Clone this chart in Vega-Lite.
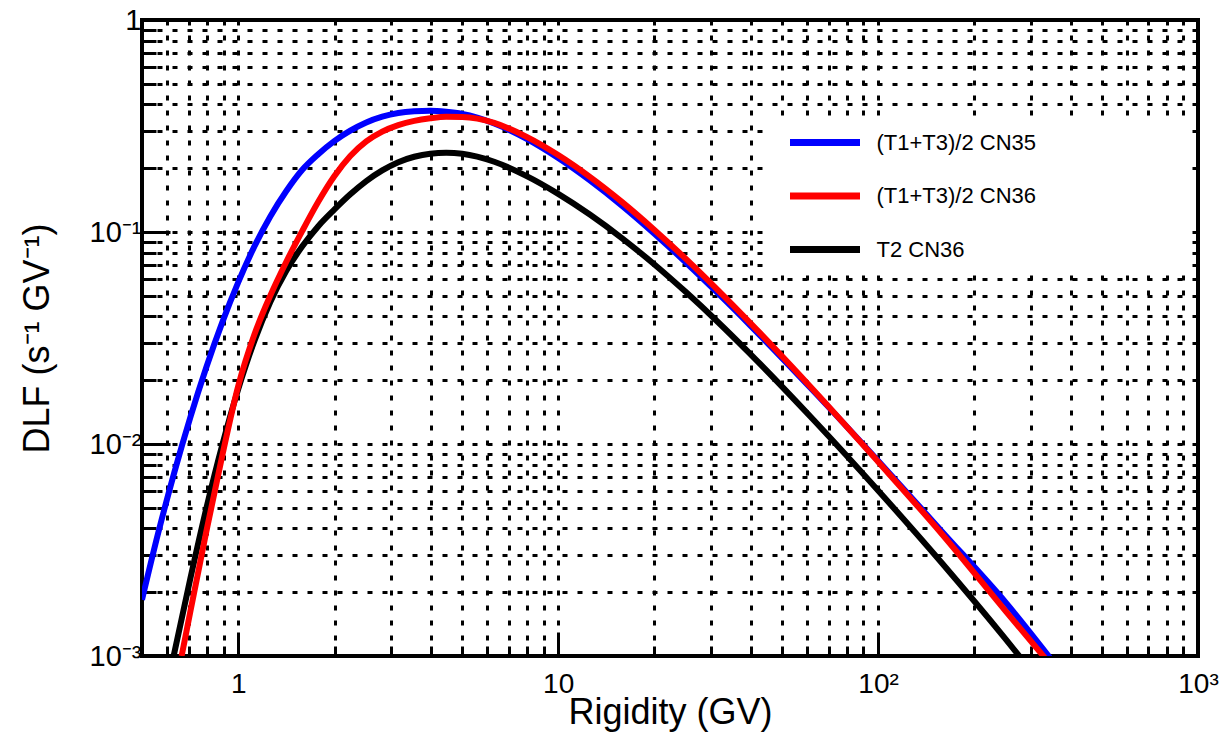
{
  "$schema": "https://vega.github.io/schema/vega-lite/v6.json",
  "width": 1056,
  "height": 636,
  "autosize": {"type": "none"},
  "padding": {"left": 142, "top": 20, "right": 26, "bottom": 78},
  "background": "white",
  "config": {"view": {"stroke": "black", "strokeWidth": 4}, "font": "Liberation Sans"},
  "data": {"values": [
    {"s": "(T1+T3)/2 CN35", "R": 0.5, "DLF": 0.00184},
    {"s": "(T1+T3)/2 CN35", "R": 0.562, "DLF": 0.00381},
    {"s": "(T1+T3)/2 CN35", "R": 0.631, "DLF": 0.00735},
    {"s": "(T1+T3)/2 CN35", "R": 0.708, "DLF": 0.01337},
    {"s": "(T1+T3)/2 CN35", "R": 0.794, "DLF": 0.02296},
    {"s": "(T1+T3)/2 CN35", "R": 0.891, "DLF": 0.03745},
    {"s": "(T1+T3)/2 CN35", "R": 1.0, "DLF": 0.058},
    {"s": "(T1+T3)/2 CN35", "R": 1.122, "DLF": 0.0853},
    {"s": "(T1+T3)/2 CN35", "R": 1.259, "DLF": 0.1184},
    {"s": "(T1+T3)/2 CN35", "R": 1.413, "DLF": 0.1561},
    {"s": "(T1+T3)/2 CN35", "R": 1.585, "DLF": 0.1966},
    {"s": "(T1+T3)/2 CN35", "R": 1.778, "DLF": 0.2328},
    {"s": "(T1+T3)/2 CN35", "R": 1.995, "DLF": 0.2684},
    {"s": "(T1+T3)/2 CN35", "R": 2.239, "DLF": 0.3006},
    {"s": "(T1+T3)/2 CN35", "R": 2.512, "DLF": 0.3286},
    {"s": "(T1+T3)/2 CN35", "R": 2.818, "DLF": 0.3499},
    {"s": "(T1+T3)/2 CN35", "R": 3.162, "DLF": 0.3642},
    {"s": "(T1+T3)/2 CN35", "R": 3.548, "DLF": 0.3711},
    {"s": "(T1+T3)/2 CN35", "R": 3.981, "DLF": 0.3733},
    {"s": "(T1+T3)/2 CN35", "R": 4.467, "DLF": 0.369},
    {"s": "(T1+T3)/2 CN35", "R": 5.012, "DLF": 0.3606},
    {"s": "(T1+T3)/2 CN35", "R": 6.31, "DLF": 0.3251},
    {"s": "(T1+T3)/2 CN35", "R": 7.943, "DLF": 0.2758},
    {"s": "(T1+T3)/2 CN35", "R": 10, "DLF": 0.2234},
    {"s": "(T1+T3)/2 CN35", "R": 12.59, "DLF": 0.1748},
    {"s": "(T1+T3)/2 CN35", "R": 15.85, "DLF": 0.1329},
    {"s": "(T1+T3)/2 CN35", "R": 19.95, "DLF": 0.0985},
    {"s": "(T1+T3)/2 CN35", "R": 25.12, "DLF": 0.0716},
    {"s": "(T1+T3)/2 CN35", "R": 31.62, "DLF": 0.0513},
    {"s": "(T1+T3)/2 CN35", "R": 39.81, "DLF": 0.0363},
    {"s": "(T1+T3)/2 CN35", "R": 63.1, "DLF": 0.01764},
    {"s": "(T1+T3)/2 CN35", "R": 100, "DLF": 0.00834},
    {"s": "(T1+T3)/2 CN35", "R": 158.5, "DLF": 0.00386},
    {"s": "(T1+T3)/2 CN35", "R": 251.2, "DLF": 0.00178},
    {"s": "(T1+T3)/2 CN35", "R": 398, "DLF": 0.00074},
    {"s": "(T1+T3)/2 CN36", "R": 0.665, "DLF": 0.001},
    {"s": "(T1+T3)/2 CN36", "R": 0.708, "DLF": 0.00162},
    {"s": "(T1+T3)/2 CN36", "R": 0.794, "DLF": 0.00385},
    {"s": "(T1+T3)/2 CN36", "R": 0.891, "DLF": 0.00881},
    {"s": "(T1+T3)/2 CN36", "R": 1.0, "DLF": 0.01884},
    {"s": "(T1+T3)/2 CN36", "R": 1.122, "DLF": 0.03273},
    {"s": "(T1+T3)/2 CN36", "R": 1.259, "DLF": 0.0501},
    {"s": "(T1+T3)/2 CN36", "R": 1.413, "DLF": 0.0724},
    {"s": "(T1+T3)/2 CN36", "R": 1.585, "DLF": 0.1012},
    {"s": "(T1+T3)/2 CN36", "R": 1.778, "DLF": 0.1388},
    {"s": "(T1+T3)/2 CN36", "R": 1.995, "DLF": 0.1831},
    {"s": "(T1+T3)/2 CN36", "R": 2.239, "DLF": 0.2283},
    {"s": "(T1+T3)/2 CN36", "R": 2.512, "DLF": 0.2677},
    {"s": "(T1+T3)/2 CN36", "R": 2.818, "DLF": 0.2976},
    {"s": "(T1+T3)/2 CN36", "R": 3.162, "DLF": 0.3195},
    {"s": "(T1+T3)/2 CN36", "R": 3.548, "DLF": 0.3345},
    {"s": "(T1+T3)/2 CN36", "R": 3.981, "DLF": 0.3439},
    {"s": "(T1+T3)/2 CN36", "R": 4.467, "DLF": 0.3494},
    {"s": "(T1+T3)/2 CN36", "R": 5.012, "DLF": 0.3487},
    {"s": "(T1+T3)/2 CN36", "R": 6.31, "DLF": 0.3273},
    {"s": "(T1+T3)/2 CN36", "R": 7.943, "DLF": 0.2818},
    {"s": "(T1+T3)/2 CN36", "R": 10, "DLF": 0.2307},
    {"s": "(T1+T3)/2 CN36", "R": 12.59, "DLF": 0.1816},
    {"s": "(T1+T3)/2 CN36", "R": 15.85, "DLF": 0.1384},
    {"s": "(T1+T3)/2 CN36", "R": 19.95, "DLF": 0.1026},
    {"s": "(T1+T3)/2 CN36", "R": 25.12, "DLF": 0.0745},
    {"s": "(T1+T3)/2 CN36", "R": 31.62, "DLF": 0.0531},
    {"s": "(T1+T3)/2 CN36", "R": 39.81, "DLF": 0.0373},
    {"s": "(T1+T3)/2 CN36", "R": 63.1, "DLF": 0.01784},
    {"s": "(T1+T3)/2 CN36", "R": 100, "DLF": 0.00825},
    {"s": "(T1+T3)/2 CN36", "R": 158.5, "DLF": 0.003753},
    {"s": "(T1+T3)/2 CN36", "R": 251.2, "DLF": 0.00162},
    {"s": "(T1+T3)/2 CN36", "R": 398, "DLF": 0.000708},
    {"s": "T2 CN36", "R": 0.628, "DLF": 0.001},
    {"s": "T2 CN36", "R": 0.708, "DLF": 0.002317},
    {"s": "T2 CN36", "R": 0.794, "DLF": 0.004955},
    {"s": "T2 CN36", "R": 0.891, "DLF": 0.009886},
    {"s": "T2 CN36", "R": 1.0, "DLF": 0.0182},
    {"s": "T2 CN36", "R": 1.122, "DLF": 0.03055},
    {"s": "T2 CN36", "R": 1.259, "DLF": 0.04677},
    {"s": "T2 CN36", "R": 1.413, "DLF": 0.06567},
    {"s": "T2 CN36", "R": 1.585, "DLF": 0.0856},
    {"s": "T2 CN36", "R": 1.778, "DLF": 0.1065},
    {"s": "T2 CN36", "R": 1.995, "DLF": 0.1274},
    {"s": "T2 CN36", "R": 2.239, "DLF": 0.1505},
    {"s": "T2 CN36", "R": 2.512, "DLF": 0.1738},
    {"s": "T2 CN36", "R": 2.818, "DLF": 0.1952},
    {"s": "T2 CN36", "R": 3.162, "DLF": 0.2135},
    {"s": "T2 CN36", "R": 3.548, "DLF": 0.2264},
    {"s": "T2 CN36", "R": 3.981, "DLF": 0.2341},
    {"s": "T2 CN36", "R": 4.467, "DLF": 0.2365},
    {"s": "T2 CN36", "R": 5.012, "DLF": 0.2339},
    {"s": "T2 CN36", "R": 6.31, "DLF": 0.2145},
    {"s": "T2 CN36", "R": 7.943, "DLF": 0.1841},
    {"s": "T2 CN36", "R": 10, "DLF": 0.1514},
    {"s": "T2 CN36", "R": 12.59, "DLF": 0.1206},
    {"s": "T2 CN36", "R": 15.85, "DLF": 0.0934},
    {"s": "T2 CN36", "R": 19.95, "DLF": 0.07047},
    {"s": "T2 CN36", "R": 25.12, "DLF": 0.05193},
    {"s": "T2 CN36", "R": 31.62, "DLF": 0.03753},
    {"s": "T2 CN36", "R": 39.81, "DLF": 0.02663},
    {"s": "T2 CN36", "R": 63.1, "DLF": 0.0129},
    {"s": "T2 CN36", "R": 100, "DLF": 0.006034},
    {"s": "T2 CN36", "R": 158.5, "DLF": 0.002738},
    {"s": "T2 CN36", "R": 251.2, "DLF": 0.001195},
    {"s": "T2 CN36", "R": 316.2, "DLF": 0.000776}
  ]},
  "encoding": {
    "x": {
      "field": "R", "type": "quantitative",
      "scale": {"type": "log", "domain": [0.5, 1000], "nice": false},
      "title": "Rigidity (GV)",
      "axis": {
        "values": [0.6, 0.7, 0.8, 0.9, 1, 2, 3, 4, 5, 6, 7, 8, 9, 10, 20, 30, 40, 50, 60, 70, 80, 90, 100, 200, 300, 400, 500, 600, 700, 800, 900, 1000],
        "grid": true, "gridColor": "black", "gridDash": [5, 10], "gridWidth": 3, "gridOpacity": 1,
        "domain": false,
        "ticks": true, "tickColor": "black", "tickWidth": 3,
        "tickSize": {"condition": {"test": "datum.value == 1 || datum.value == 10 || datum.value == 100 || datum.value == 1000", "value": -24}, "value": -10},
        "labelExpr": "datum.value == 1 ? '1' : datum.value == 10 ? '10' : datum.value == 100 ? '10\u00b2' : datum.value == 1000 ? '10\u00b3' : ''",
        "labelFontSize": 28, "labelColor": "black", "labelFont": "Liberation Sans",
        "labelPadding": 38, "labelFlush": false, "labelOverlap": false, "labelBound": false,
        "titleFontSize": 36, "titleFontWeight": "normal", "titleColor": "black", "titleFont": "Liberation Sans",
        "titlePadding": -17
      }
    },
    "y": {
      "field": "DLF", "type": "quantitative",
      "scale": {"type": "log", "domain": [0.001, 1], "nice": false},
      "title": "DLF (s\u207b\u00b9 GV\u207b\u00b9)",
      "axis": {
        "values": [0.001, 0.002, 0.003, 0.004, 0.005, 0.006, 0.007, 0.008, 0.009, 0.01, 0.02, 0.03, 0.04, 0.05, 0.06, 0.07, 0.08, 0.09, 0.1, 0.2, 0.3, 0.4, 0.5, 0.6, 0.7, 0.8, 0.9, 1],
        "grid": true, "gridColor": "black", "gridDash": [5, 10], "gridWidth": 3, "gridOpacity": 1,
        "domain": false,
        "ticks": true, "tickColor": "black", "tickWidth": 3,
        "tickSize": {"condition": {"test": "datum.value == 1 || datum.value == 0.1 || datum.value == 0.01 || datum.value == 0.001", "value": -28}, "value": -14},
        "labelExpr": "datum.value == 1 ? '1' : datum.value == 0.1 ? '10\u207b\u00b9' : datum.value == 0.01 ? '10\u207b\u00b2' : datum.value == 0.001 ? '10\u207b\u00b3' : ''",
        "labelFontSize": 29, "labelColor": "black", "labelFont": "Liberation Sans",
        "labelPadding": 29, "labelFlush": false, "labelOverlap": false, "labelBound": false,
        "titleFontSize": 36, "titleFontWeight": "normal", "titleColor": "black", "titleFont": "Liberation Sans",
        "titlePadding": 33
      }
    },
    "color": {
      "field": "s", "type": "nominal",
      "scale": {"domain": ["(T1+T3)/2 CN35", "(T1+T3)/2 CN36", "T2 CN36"], "range": ["#0000ff", "#ff0000", "#000000"]},
      "legend": {
        "orient": "none", "legendX": 630, "legendY": 101, "title": null,
        "fillColor": "white", "padding": 8,
        "symbolType": "M-3.5,0H3.5", "symbolSize": 400, "symbolStrokeWidth": 7, "symbolOffset": 31.5,
        "labelOffset": 38, "labelFontSize": 22, "labelFont": "Liberation Sans", "labelColor": "black",
        "rowPadding": 24.5, "labelLimit": 400,
        "labelExpr": "datum.label + '\u2800\u2800\u2800\u2800\u2800\u2800\u2800\u2800\u2800'"
      }
    }
  },
  "layer": [
    {"transform": [{"filter": "datum.s == 'T2 CN36'"}], "mark": {"type": "line", "strokeWidth": 6, "interpolate": "monotone", "clip": true}},
    {"transform": [{"filter": "datum.s == '(T1+T3)/2 CN35'"}], "mark": {"type": "line", "strokeWidth": 6, "interpolate": "monotone", "clip": true}},
    {"transform": [{"filter": "datum.s == '(T1+T3)/2 CN36'"}], "mark": {"type": "line", "strokeWidth": 6, "interpolate": "monotone", "clip": true}}
  ]
}
